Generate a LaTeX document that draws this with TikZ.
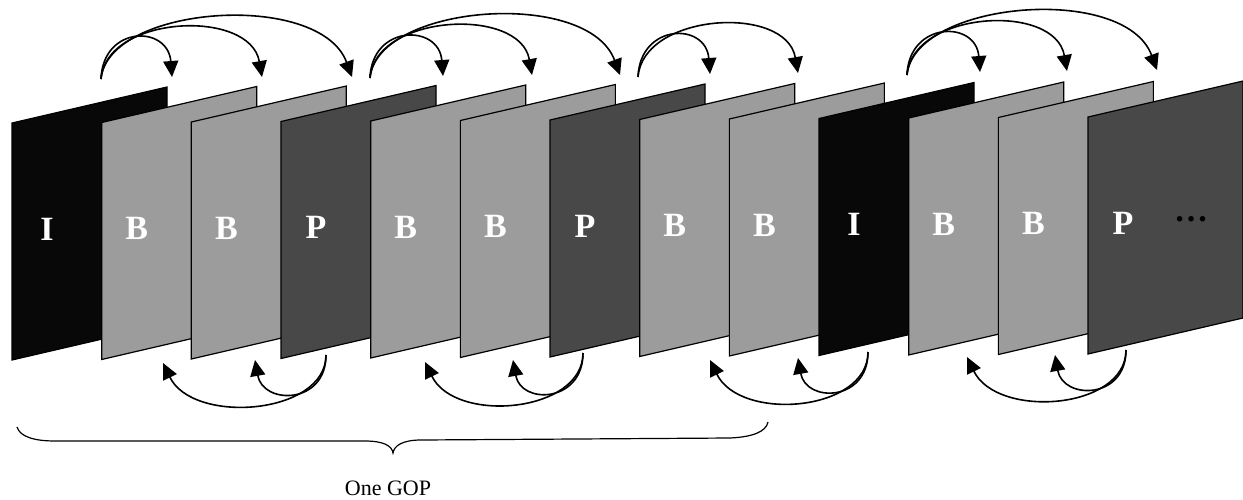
\documentclass[tikz,border=0pt]{standalone}
\usepackage{fontspec}
\setmainfont{Liberation Serif}
\usetikzlibrary{arrows.meta}
\definecolor{iframe}{HTML}{080808}
\definecolor{bframe}{HTML}{9C9C9C}
\definecolor{pframe}{HTML}{484848}
\begin{document}
\begin{tikzpicture}[x=0.5pt,y=-0.5pt,
  frame/.style={draw=black, line width=0.6pt, line join=miter},
  lbl/.style={text=white, font=\bfseries\fontsize{17}{17}\selectfont, inner sep=0pt},
  ref/.style={line width=0.8pt, -{Triangle[length=8pt,width=7.5pt]}},
  brace/.style={line width=0.6pt},
  captiontext/.style={font=\fontsize{11}{13}\selectfont, inner sep=0pt}]
\useasboundingbox (0,0) rectangle (1243,499);
% frames
\foreach \t/\c [count=\i from 0] in {I/iframe,B/bframe,B/bframe,P/pframe,B/bframe,B/bframe,P/pframe,B/bframe,B/bframe,I/iframe,B/bframe,B/bframe,P/pframe}{
  \pgfmathsetmacro\xl{12+89.67*\i}
  \pgfmathsetmacro\yt{123-0.5*\i}
  \filldraw[frame, fill=\c] (\xl,\yt) -- ++(155,-36) -- ++(0,237) -- ++(-155,36) -- cycle;
  \node[lbl] (L\i) at (\xl+35,\yt+106) {\t};
}
\node[font=\bfseries\fontsize{17}{17}\selectfont, text=black, inner sep=0pt] (dots) at (1191,219) {…};
% top reference arrows
\coordinate (s1) at (101,79);
\coordinate (a11) at (172,77); \coordinate (a12) at (262,77); \coordinate (a13) at (352,77);
\coordinate (s2) at (370,78);
\coordinate (a21) at (443,76); \coordinate (a22) at (532,75); \coordinate (a23) at (620,75);
\coordinate (s3) at (638,77);
\coordinate (a31) at (710,74); \coordinate (a32) at (798,73);
\coordinate (s4) at (907,75);
\coordinate (a41) at (980,72); \coordinate (a42) at (1067,71); \coordinate (a43) at (1157,70);
\foreach \s/\a in {s1/a11,s2/a21,s3/a31,s4/a41}
  \draw[ref] (\s) .. controls +(2,-54) and +(-4,-52) .. (\a);
\foreach \s/\a in {s1/a12,s2/a22,s3/a32,s4/a42}
  \draw[ref] (\s) .. controls +(5,-64) and +(-12,-69) .. (\a);
\foreach \s/\a in {s1/a13,s2/a23,s4/a43}
  \draw[ref] (\s) .. controls +(7,-74) and +(-32,-87) .. (\a);
% bottom reference arrows
\coordinate (b1) at (326,355);
\coordinate (c11) at (163,363); \coordinate (c12) at (255,360);
\coordinate (b2) at (583,353);
\coordinate (c21) at (425,362); \coordinate (c22) at (513,360);
\coordinate (b3) at (868,352);
\coordinate (c31) at (710,360); \coordinate (c32) at (798,358);
\coordinate (b4) at (1126,350);
\coordinate (c41) at (967,357); \coordinate (c42) at (1055,355);
\foreach \s/\a in {b1/c11,b2/c21,b3/c31,b4/c41}
  \draw[ref] (\s) .. controls +(0,60) and +(30,62) .. (\a);
\foreach \s/\a in {b1/c12,b2/c22,b3/c32,b4/c42}
  \draw[ref] (\s) .. controls +(0,50) and +(8,45) .. (\a);
% brace
\coordinate (br1) at (17,427);
\coordinate (brt) at (393,453);
\coordinate (br2) at (768,422);
\draw[brace] (br1) .. controls (20,437) and (35,441) .. (55,441) -- (365,441)
  .. controls (384,441) and (392,446) .. (brt)
  .. controls (394,446) and (402,440) .. (421,440) -- (730,438)
  .. controls (752,437) and (766,432) .. (br2);
\node[captiontext] (gop) at (388,488) {One GOP};
\end{tikzpicture}
\end{document}
